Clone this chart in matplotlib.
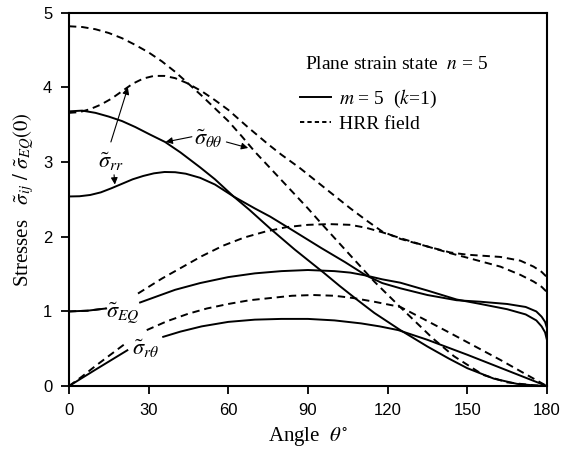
import numpy as np
import matplotlib
matplotlib.use('Agg')
import matplotlib.pyplot as plt
from matplotlib.lines import Line2D

plt.rcParams['mathtext.fontset'] = 'stix'
plt.rcParams['font.family'] = 'serif'
plt.rcParams['font.serif'] = ['Liberation Serif', 'DejaVu Serif']

nan = np.nan

# HRR field (dashed)
ang_tt_hrr = [0, 5, 10, 15, 20, 25, 30, 35, 40, 44.4, 50, 55, 60, 65, 70, 80, 90, 95, 106, 115, 125, 137, 145, 156, 165, 175, 180]
tt_hrr = [4.82, 4.81, 4.78, 4.73, 4.66, 4.57, 4.47, 4.35, 4.21, 4.07, 3.89, 3.72, 3.55, 3.35, 3.14, 2.76, 2.38, 2.18, 1.75, 1.40, 1.05, 0.64, 0.40, 0.15, 0.05, 0.01, 0.0]

ang_rr_hrr = [0, 4, 8, 12, 16, 20, 24, 28, 32, 36, 40, 44.4, 50, 55, 60, 67, 75, 80, 87, 100, 106, 112, 118, 125, 135, 143.6, 150, 162.5, 170, 175, 178, 180]
rr_hrr = [3.66, 3.67, 3.71, 3.77, 3.85, 3.95, 4.05, 4.12, 4.155, 4.155, 4.125, 4.06, 3.95, 3.83, 3.70, 3.48, 3.24, 3.10, 2.92, 2.55, 2.38, 2.22, 2.07, 1.97, 1.87, 1.79, 1.76, 1.73, 1.68, 1.60, 1.53, 1.46]

ang_eq_hrr = [0, 7, 14, 14.1, 26, 35, 44, 50, 58, 66, 74, 82, 90, 98, 106, 112, 118, 125, 135, 143.6, 150, 162.5, 170, 175, 178, 180]
eq_hrr = [1.0, 1.01, 1.04, nan, 1.24, 1.44, 1.62, 1.74, 1.88, 1.99, 2.07, 2.13, 2.16, 2.17, 2.16, 2.12, 2.06, 1.98, 1.87, 1.78, 1.72, 1.60, 1.49, 1.40, 1.33, 1.26]

ang_rt_hrr = [0, 5, 10, 16, 22, 22.1, 29.3, 37, 45, 52, 60, 68, 76, 84, 92, 100, 107, 115, 124.8, 134, 143.6, 152, 162.5, 170, 175, 180]
rt_hrr = [0.0, 0.13, 0.27, 0.43, 0.59, nan, 0.75, 0.87, 0.97, 1.04, 1.10, 1.15, 1.18, 1.21, 1.22, 1.21, 1.18, 1.13, 1.06, 0.89, 0.71, 0.55, 0.35, 0.20, 0.10, 0.0]

# m = 5 (k=1) (solid)
ang_tt = [0, 5, 10, 15, 20, 25, 30.5, 36.2, 42, 49.4, 55, 62, 68, 75.8, 85, 95.9, 102, 108.4, 115, 124.8, 135, 143, 150, 160, 168.7, 175, 180]
tt = [3.68, 3.69, 3.66, 3.61, 3.55, 3.47, 3.37, 3.27, 3.13, 2.93, 2.77, 2.54, 2.36, 2.11, 1.83, 1.52, 1.34, 1.16, 0.98, 0.75, 0.53, 0.37, 0.24, 0.10, 0.03, 0.01, 0.0]

ang_rr = [0, 4, 8, 12, 16, 20, 24, 28, 32, 36, 40, 44, 49.4, 55, 62, 70, 75.8, 85, 95, 104, 112, 118, 124.8, 135, 146, 155, 165, 172, 176, 178, 179.3, 180]
rr = [2.54, 2.543, 2.56, 2.595, 2.65, 2.71, 2.77, 2.815, 2.85, 2.868, 2.865, 2.845, 2.79, 2.70, 2.54, 2.38, 2.27, 2.07, 1.85, 1.66, 1.48, 1.38, 1.31, 1.22, 1.15, 1.13, 1.10, 1.06, 1.00, 0.93, 0.86, 0.78]

ang_eq = [0, 7, 14, 14.1, 26.8, 33, 40, 49.4, 60, 70, 80, 90, 100, 106, 112, 118, 124.8, 135, 146, 155, 165, 172, 176, 178, 179.3, 180]
eq = [1.0, 1.01, 1.04, nan, 1.12, 1.20, 1.29, 1.38, 1.46, 1.51, 1.54, 1.555, 1.54, 1.52, 1.48, 1.43, 1.385, 1.28, 1.16, 1.10, 1.03, 0.96, 0.88, 0.80, 0.72, 0.62]

ang_rt = [0, 5, 10, 16, 22, 22.1, 35.5, 42, 50, 60, 70, 80, 90, 100, 110, 117, 124, 135, 150, 165, 175, 180]
rt = [0.0, 0.11, 0.22, 0.35, 0.48, nan, 0.66, 0.73, 0.80, 0.86, 0.89, 0.90, 0.90, 0.88, 0.84, 0.80, 0.75, 0.62, 0.42, 0.21, 0.07, 0.0]

x_ticks = [0, 30, 60, 90, 120, 150, 180]
y_ticks = [0, 1, 2, 3, 4, 5]

fig = plt.figure(figsize=(5.65, 4.58), dpi=100)
ax = fig.add_axes([0.122, 0.157, 0.846, 0.815])

lw = 1.4
dash = (3.8, 2.5)
for a, v in [(ang_tt_hrr, tt_hrr), (ang_rr_hrr, rr_hrr), (ang_eq_hrr, eq_hrr), (ang_rt_hrr, rt_hrr)]:
    ax.plot(a, v, color='black', lw=lw, linestyle=(0, dash))
for a, v in [(ang_tt, tt), (ang_rr, rr), (ang_eq, eq), (ang_rt, rt)]:
    ax.plot(a, v, color='black', lw=lw)

ax.set_xlim(0, 180)
ax.set_ylim(0, 5)
tick_font = dict(family=['Liberation Sans', 'DejaVu Sans'], fontsize=12)
ax.set_xticks(x_ticks, labels=[str(t) for t in x_ticks], **tick_font)
ax.set_yticks(y_ticks, labels=[str(t) for t in y_ticks], **tick_font)
ax.tick_params(direction='out', length=6, width=1.3, pad=6)
for sp in ax.spines.values():
    sp.set_linewidth(1.5)

ax.set_xlabel(r'Angle  $\theta^{\circ}$', fontsize=15, labelpad=5)
ax.set_ylabel(r'Stresses   $\tilde{\sigma}_{ij}\ /\ \tilde{\sigma}_{EQ}(0)$', fontsize=15, labelpad=5)

# curve labels
arrow = dict(arrowstyle='-|>', color='black', lw=0.8, mutation_scale=10, shrinkA=0, shrinkB=0)
ax.text(15.8, 3.0, r'$\tilde{\sigma}_{rr}$', fontsize=16, ha='center', va='center')
ax.annotate('', xy=(22.2, 4.0), xytext=(15.8, 3.27), arrowprops=arrow)
ax.annotate('', xy=(17.3, 2.70), xytext=(17.0, 2.83), arrowprops=arrow)

ax.text(52.5, 3.31, r'$\tilde{\sigma}_{\theta\theta}$', fontsize=16, ha='center', va='center')
ax.annotate('', xy=(36.4, 3.27), xytext=(46.3, 3.34), arrowprops=arrow)
ax.annotate('', xy=(67.5, 3.19), xytext=(59.3, 3.27), arrowprops=arrow)

ax.text(20.4, 0.98, r'$\tilde{\sigma}_{EQ}$', fontsize=16, ha='center', va='center')
ax.text(29.0, 0.50, r'$\tilde{\sigma}_{r\theta}$', fontsize=16, ha='center', va='center')

# legend
ax.text(0.494, 0.861, r'Plane strain state  $n$ = 5', transform=ax.transAxes,
        fontsize=14, ha='left', va='center')
handles = [Line2D([], [], color='black', lw=lw),
           Line2D([], [], color='black', lw=lw, linestyle=(0, (2.2, 1.6)))]
ax.legend(handles, [r'$m$ = 5  ($k$=1)', 'HRR field'], loc='upper left',
          bbox_to_anchor=(0.484, 0.80), frameon=False, fontsize=14,
          handlelength=1.6, handletextpad=0.4, labelspacing=0.3,
          borderpad=0, borderaxespad=0)

fig.savefig('out.png', dpi=100)
